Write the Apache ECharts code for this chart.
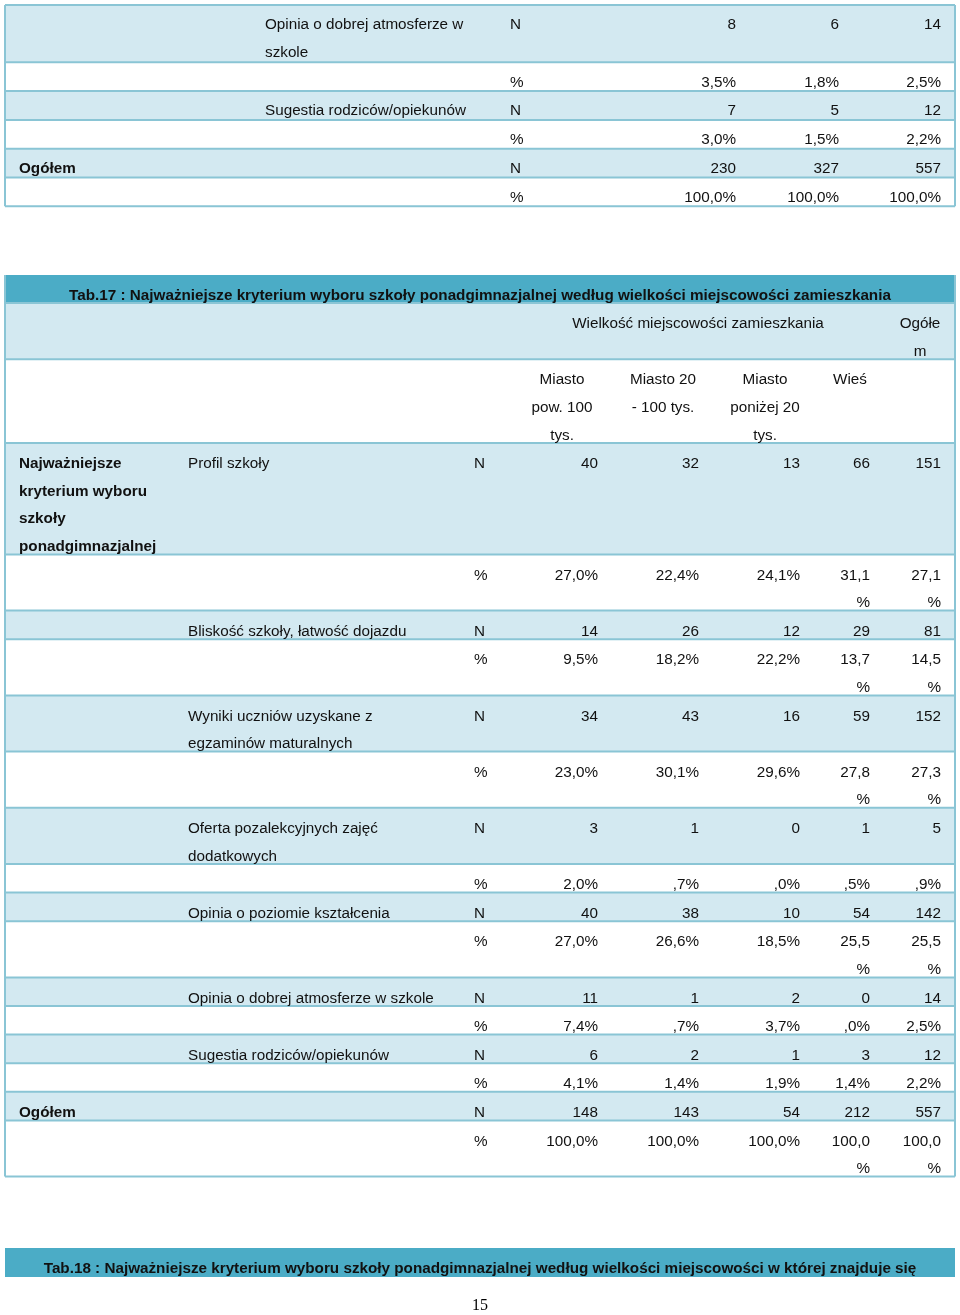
<!DOCTYPE html>
<html>
<head>
<meta charset="utf-8">
<script src="https://cdn.jsdelivr.net/npm/echarts@6/dist/echarts.min.js"></script>
<style>
  html, body { margin: 0; padding: 0; background: #fff; }
  #main { width: 960px; height: 1315px; }
</style>
</head>
<body>
<div id="main"></div>
<script>
// końcówka poprzedniej tabeli (Tab.16)
const prevCriteria = ['Opinia o dobrej atmosferze w\nszkole', 'Sugestia rodziców/opiekunów'];
const prevN = [[8, 6, 14], [7, 5, 12]];
const prevPct = [[3.5, 1.8, 2.5], [3.0, 1.5, 2.2]];
const prevTotalN = [230, 327, 557];
const prevTotalPct = [100, 100, 100];

// Tab.17
const title17 = 'Tab.17 : Najważniejsze kryterium wyboru szkoły ponadgimnazjalnej według wielkości miejscowości zamieszkania';
const groupTitle = 'Wielkość miejscowości zamieszkania';
const totalTitle = 'Ogółe\nm';
const sizeGroups = ['Miasto\npow. 100\ntys.', 'Miasto 20\n- 100 tys.', 'Miasto\nponiżej 20\ntys.', 'Wieś'];
const rowTitle = 'Najważniejsze\nkryterium wyboru\nszkoły\nponadgimnazjalnej';
const criteria = [
  'Profil szkoły',
  'Bliskość szkoły, łatwość dojazdu',
  'Wyniki uczniów uzyskane z\negzaminów maturalnych',
  'Oferta pozalekcyjnych zajęć\ndodatkowych',
  'Opinia o poziomie kształcenia',
  'Opinia o dobrej atmosferze w szkole',
  'Sugestia rodziców/opiekunów'
];
const countN = [
  [40, 32, 13, 66, 151],
  [14, 26, 12, 29, 81],
  [34, 43, 16, 59, 152],
  [3, 1, 0, 1, 5],
  [40, 38, 10, 54, 142],
  [11, 1, 2, 0, 14],
  [6, 2, 1, 3, 12]
];
const sharePct = [
  [27.0, 22.4, 24.1, 31.1, 27.1],
  [9.5, 18.2, 22.2, 13.7, 14.5],
  [23.0, 30.1, 29.6, 27.8, 27.3],
  [2.0, 0.7, 0.0, 0.5, 0.9],
  [27.0, 26.6, 18.5, 25.5, 25.5],
  [7.4, 0.7, 3.7, 0.0, 2.5],
  [4.1, 1.4, 1.9, 1.4, 2.2]
];
const totalN = [148, 143, 54, 212, 557];
const totalPct = [100, 100, 100, 100, 100];

const title18 = 'Tab.18 : Najważniejsze kryterium wyboru szkoły ponadgimnazjalnej według wielkości miejscowości w której znajduje się';
const pageNo = '15';

// --- wygląd ---
const FONT = '"Liberation Sans", Arial, sans-serif';
const FS = '15.25px ';
const TEXT_LH = 27.6;
const X0 = 5, X1 = 955;
const C_FILL = '#d3e9f1', C_HEAD = '#4bacc6', C_LINE = '#8ac5d5';

// SPSS-owy format: przecinek, bez zera wiodącego
function pct(v, narrow) {
  let s = v.toFixed(1).replace('.', ',');
  if (v < 1) s = s.replace(/^0/, '');
  s += '%';
  if (narrow && s.length >= 5) s = s.replace('%', '\n%');
  return s;
}

const boxes = [];   // [x0, y0, x1, y1, kolor]
const lines = [];   // [x0, y0, x1, y1]
const texts = [];   // {x, y, text, align, bold}

function table(top, rows, lineH, pad, textOff) {
  let y = top;
  rows.forEach(r => {
    const n = Math.max(1, ...r.cells.map(c => String(c.text).split('\n').length));
    const h = n * lineH + pad;
    if (r.fill) boxes.push([X0, y, X1, y + h, 0]);
    lines.push([X0, y, X1, y]);
    r.cells.forEach(c => texts.push(Object.assign({ align: 'left', bold: false }, c,
      { y: y + textOff - TEXT_LH / 2 })));
    y += h;
  });
  lines.push([X0, y, X1, y]);
  return y;
}

function headBar(top, text) {
  boxes.push([X0, top, X1, top + 29, 1]);
  texts.push({ x: 480, y: top + 21 - TEXT_LH / 2, text: text, align: 'center', bold: true });
}

// górna tabela
const prevCols = { a: 19, b: 265, n: 510, v: [736, 839, 941] };
const prevRows = [];
prevCriteria.forEach((c, i) => {
  prevRows.push({ fill: true, cells: [{ x: prevCols.b, text: c }, { x: prevCols.n, text: 'N' }]
    .concat(prevN[i].map((v, j) => ({ x: prevCols.v[j], text: String(v), align: 'right' }))) });
  prevRows.push({ fill: false, cells: [{ x: prevCols.n, text: '%' }]
    .concat(prevPct[i].map((v, j) => ({ x: prevCols.v[j], text: pct(v), align: 'right' }))) });
});
prevRows.push({ fill: true, cells: [{ x: prevCols.a, text: 'Ogółem', bold: true }, { x: prevCols.n, text: 'N' }]
  .concat(prevTotalN.map((v, j) => ({ x: prevCols.v[j], text: String(v), align: 'right' }))) });
prevRows.push({ fill: false, cells: [{ x: prevCols.n, text: '%' }]
  .concat(prevTotalPct.map((v, j) => ({ x: prevCols.v[j], text: pct(v), align: 'right' }))) });
const prevBottom = table(5, prevRows, 28.5, 0.3, 20);
lines.push([X0, 5, X0, prevBottom], [X1, 5, X1, prevBottom]);

// Tab.17
const cols = { a: 19, b: 188, n: 474, v: [598, 699, 800, 870, 941], h: [562, 663, 765, 850] };
headBar(275, title17);
const rows17 = [
  { fill: true, cells: [{ x: 698, text: groupTitle, align: 'center' }, { x: 920, text: totalTitle, align: 'center' }] },
  { fill: false, cells: sizeGroups.map((g, j) => ({ x: cols.h[j], text: g, align: 'center' })) }
];
criteria.forEach((c, i) => {
  const cells = [{ x: cols.b, text: c }, { x: cols.n, text: 'N' }];
  if (i === 0) cells.unshift({ x: cols.a, text: rowTitle, bold: true });
  rows17.push({ fill: true, cells: cells.concat(countN[i].map((v, j) => ({ x: cols.v[j], text: String(v), align: 'right' }))) });
  rows17.push({ fill: false, cells: [{ x: cols.n, text: '%' }]
    .concat(sharePct[i].map((v, j) => ({ x: cols.v[j], text: pct(v, j >= 3), align: 'right' }))) });
});
rows17.push({ fill: true, cells: [{ x: cols.a, text: 'Ogółem', bold: true }, { x: cols.n, text: 'N' }]
  .concat(totalN.map((v, j) => ({ x: cols.v[j], text: String(v), align: 'right' }))) });
rows17.push({ fill: false, cells: [{ x: cols.n, text: '%' }]
  .concat(totalPct.map((v, j) => ({ x: cols.v[j], text: pct(v, j >= 3), align: 'right' }))) });
const bottom17 = table(303, rows17, 27.6, 1, 21);
lines.push([X0, 275, X0, bottom17], [X1, 275, X1, bottom17]);

// Tab.18 (tylko nagłówek)
headBar(1248, title18);

const chart = echarts.init(document.getElementById('main'));
chart.setOption({
  animation: false,
  grid: { left: 0, right: 0, top: 0, bottom: 0 },
  xAxis: { type: 'value', min: 0, max: 960, show: false },
  yAxis: { type: 'value', min: 0, max: 1315, inverse: true, show: false },
  series: [
    {
      type: 'custom', clip: false, silent: true,
      data: boxes,
      renderItem: (params, api) => {
        const p0 = api.coord([api.value(0), api.value(1)]);
        const p1 = api.coord([api.value(2), api.value(3)]);
        return {
          type: 'rect',
          shape: { x: p0[0], y: p0[1], width: p1[0] - p0[0], height: p1[1] - p0[1] },
          style: { fill: api.value(4) === 1 ? C_HEAD : C_FILL }
        };
      }
    },
    {
      type: 'custom', clip: false, silent: true,
      data: lines,
      renderItem: (params, api) => {
        const p0 = api.coord([api.value(0), api.value(1)]);
        const p1 = api.coord([api.value(2), api.value(3)]);
        return {
          type: 'line',
          shape: { x1: p0[0], y1: p0[1], x2: p1[0], y2: p1[1] },
          style: { stroke: C_LINE, lineWidth: 2 }
        };
      }
    },
    {
      type: 'custom', clip: false, silent: true,
      data: texts.map(t => [t.x, t.y]),
      renderItem: (params, api) => {
        const t = texts[params.dataIndex];
        const p = api.coord([api.value(0), api.value(1)]);
        return {
          type: 'text', x: p[0], y: p[1],
          style: {
            text: t.text, align: t.align, verticalAlign: 'top',
            lineHeight: TEXT_LH, fill: '#111',
            font: (t.bold ? 'bold ' : '') + FS + FONT
          }
        };
      }
    },
    {
      type: 'custom', clip: false, silent: true,
      data: [[480, 1306]],
      renderItem: (params, api) => {
        const p = api.coord([api.value(0), api.value(1)]);
        return {
          type: 'text', x: p[0], y: p[1],
          style: { text: pageNo, align: 'center', verticalAlign: 'middle', fill: '#000',
            font: '16px "Liberation Serif", "Times New Roman", serif' }
        };
      }
    }
  ]
});
</script>
</body>
</html>
